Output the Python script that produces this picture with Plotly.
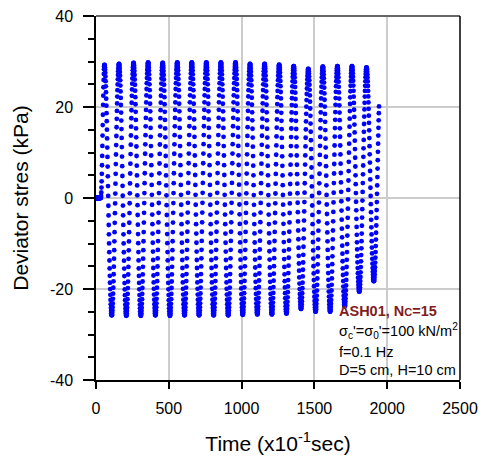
import math
import plotly.graph_objects as go

# ---- data (time in x10^-1 s, stress in kPa) ----
zero_end_time = 33          # end of the initial zero-load segment
peak_time = [58, 158, 258, 358, 458, 558, 658, 758, 858, 958,
             1058, 1158, 1258, 1358, 1458, 1558, 1658, 1758, 1858]
peak_kpa = [29.3, 29.5, 29.7, 29.8, 29.7, 29.8, 29.8, 29.8, 29.8, 29.8,
            29.5, 29.5, 29.3, 29.0, 28.4, 28.9, 29.0, 29.0, 28.7]
trough_time = [108, 208, 308, 408, 508, 608, 708, 808, 908, 1008,
               1108, 1208, 1308, 1408, 1508, 1608, 1708, 1808, 1908]
trough_kpa = [-25.8, -25.9, -25.9, -25.8, -25.9, -25.8, -25.8, -25.8, -25.8, -25.7,
              -25.6, -25.6, -25.4, -24.4, -25.0, -25.0, -23.8, -20.6, -18.3]
next_peak_time = 1958       # peak the last (cut) loading branch was heading to
next_peak_kpa = 29.0
record_end_time = 1944      # last recorded sample (about 21 kPa)
sample_step = 1.25          # sampling interval of the record

x_ticks = [0, 500, 1000, 1500, 2000, 2500]
y_ticks = [-40, -20, 0, 20, 40]

# ---- assemble the recorded series from the read extremes ----
extremes = [(0, 0.0), (zero_end_time, 0.0)]
for tp, vp, tt, vt in zip(peak_time, peak_kpa, trough_time, trough_kpa):
    extremes.append((tp, vp))
    extremes.append((tt, vt))
extremes.append((next_peak_time, next_peak_kpa))

times, stress = [], []
t = 0.0
seg = 0
while t <= record_end_time:
    while seg < len(extremes) - 2 and t >= extremes[seg + 1][0]:
        seg += 1
    (t0, v0), (t1, v1) = extremes[seg], extremes[seg + 1]
    if v0 == v1:
        v = v0
    else:
        v = v0 + (v1 - v0) * (1 - math.cos(math.pi * (t - t0) / (t1 - t0))) / 2
    times.append(t)
    stress.append(v)
    t += sample_step

FONT = "Liberation Sans, Arial, sans-serif"

fig = go.Figure()
fig.add_trace(go.Scatter(
    x=times, y=stress, mode="markers",
    marker=dict(color="#0000ff", size=4.8, line=dict(width=0)),
    showlegend=False, hoverinfo="skip"))

fig.update_layout(
    width=486, height=459,
    margin=dict(l=96, r=26, t=16, b=79, autoexpand=False),
    paper_bgcolor="white", plot_bgcolor="white",
    font=dict(family=FONT, color="black"),
    xaxis=dict(
        range=[0, 2500], tickvals=x_ticks, ticktext=[str(v) for v in x_ticks],
        showgrid=True, gridcolor="#cccccc", gridwidth=1.5, automargin=False,
        zeroline=False, showline=True, linecolor="black", linewidth=1.5,
        ticks="outside", ticklen=7, tickwidth=1.5, tickcolor="black",
        tickfont=dict(size=16, family=FONT), ticklabelstandoff=6,
        title=dict(text="Time (x10<sup>-1</sup>sec)", font=dict(size=21, family=FONT),
                   standoff=20),
    ),
    yaxis=dict(
        range=[-40, 40], tickvals=y_ticks, ticktext=[str(v) for v in y_ticks],
        showgrid=True, gridcolor="#cccccc", gridwidth=1.5, automargin=False,
        zeroline=False, showline=True, linecolor="black", linewidth=1.5,
        ticks="outside", ticklen=11, tickwidth=1.5, tickcolor="black",
        tickfont=dict(size=16, family=FONT), ticklabelstandoff=7,
        minor=dict(dtick=5, ticks="outside", ticklen=6, tickwidth=1.5,
                   tickcolor="black", showgrid=False),
        title=dict(text="Deviator stres (kPa)", font=dict(size=21, family=FONT),
                   standoff=16),
    ),
)

# frame: top (grey) and right (black)
fig.add_shape(type="line", xref="paper", yref="paper", x0=0, x1=1, y0=1, y1=1,
              line=dict(color="#666666", width=2))
fig.add_shape(type="line", xref="paper", yref="paper", x0=1, x1=1, y0=0, y1=1,
              line=dict(color="black", width=1.5))

notes = [
    ("<b>ASH01, N<span style='font-size:11px'>C</span>=15</b>", -24.8, "#7f1d1d"),
    ("σ<sub>c</sub>'=σ<sub>0</sub>'=100 kN/m<sup>2</sup>", -29.2, "black"),
    ("f=0.1 Hz", -33.8, "black"),
    ("D=5 cm, H=10 cm", -37.7, "black"),
]
for txt, yv, col in notes:
    fig.add_annotation(x=1655, y=yv, xref="x", yref="y", text=txt, showarrow=False,
                       xanchor="left", yanchor="middle",
                       font=dict(size=14.5, family=FONT, color=col))

fig.write_html("out.html", config={"displayModeBar": False},
               post_script="document.body.style.margin='0px';document.body.style.overflow='hidden';")
